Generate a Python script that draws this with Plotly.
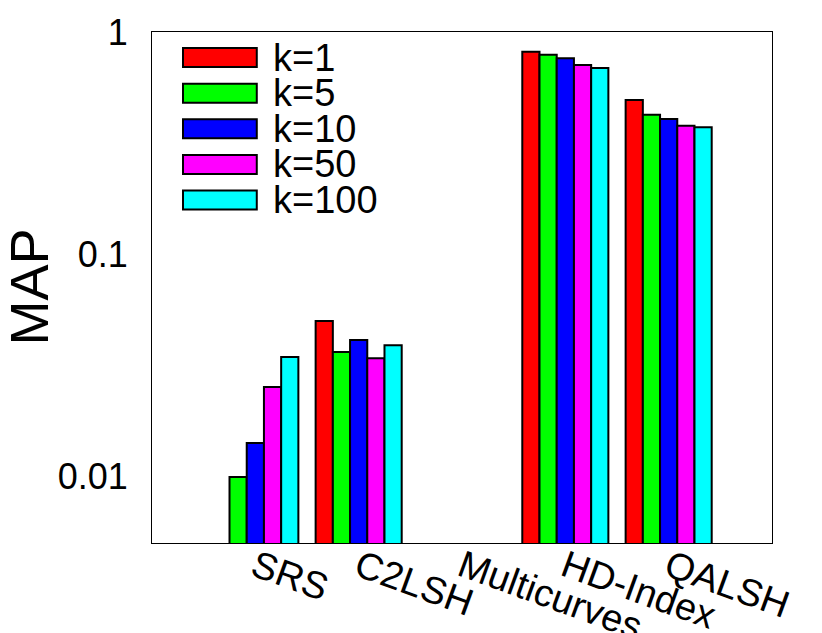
import plotly.graph_objects as go

methods = ['SRS', 'C2LSH', 'Multicurves', 'HD-Index', 'QALSH']
series_names = ['k=1', 'k=5', 'k=10', 'k=50', 'k=100']
colors = ['#ff0000', '#00ff00', '#0000ff', '#ff00ff', '#00ffff']

# MAP per method, one list per k (None = no bar)
map_k1 = [None, 0.050, None, 0.815, 0.494]
map_k5 = [0.0099, 0.0362, None, 0.790, 0.424]
map_k10 = [0.0141, 0.0410, None, 0.761, 0.406]
map_k50 = [0.0252, 0.0340, None, 0.710, 0.378]
map_k100 = [0.0344, 0.0389, None, 0.689, 0.372]

values = [map_k1, map_k5, map_k10, map_k50, map_k100]

FONT = 'Liberation Sans, Arial, sans-serif'

fig = go.Figure()
for name, vals, col in zip(series_names, values, colors):
    fig.add_trace(go.Bar(
        x=methods, y=vals, name=name,
        marker=dict(color=col, line=dict(color='black', width=2)),
        showlegend=False,
    ))

# hand-made key, so the swatches can be wide like the original
shapes = []
annotations = []
for i, (name, col) in enumerate(zip(series_names, colors)):
    yc = 0.950 - i * 0.0697
    shapes.append(dict(type='rect', xref='paper', yref='paper',
                       x0=0.05, x1=0.169, y0=yc - 0.0186, y1=yc + 0.0186,
                       fillcolor=col, line=dict(color='black', width=2)))
    annotations.append(dict(xref='paper', yref='paper', x=0.192, y=yc,
                            text=name, showarrow=False, xanchor='left',
                            yanchor='middle', height=32,
                            font=dict(size=38, color='black')))

# y title as an annotation so it can sit right at the left edge
annotations.append(dict(xref='paper', yref='paper', x=-0.2, y=0.5,
                        text='MAP', textangle=-90, showarrow=False,
                        xanchor='center', yanchor='middle', height=46,
                        font=dict(size=54, color='black')))

# page has an 8px body margin, so margins are shifted by that
fig.update_layout(
    width=822, height=633,
    margin=dict(l=144, r=58, t=24, b=98),
    paper_bgcolor='white', plot_bgcolor='white',
    font=dict(family=FONT, color='black'),
    barmode='group', bargap=0.167, bargroupgap=0,
    shapes=shapes, annotations=annotations,
)
fig.update_xaxes(
    type='category', range=[-1, 5],
    showline=True, linecolor='black', linewidth=1, mirror=True,
    showgrid=False, ticks='', tickangle=20, ticklabelstandoff=-14,
    tickfont=dict(size=38), automargin=False,
)
fig.update_yaxes(
    type='log', range=[-2.301, 0],
    tickvals=[0.01, 0.1, 1], ticktext=['0.01', '0.1', '1'],
    showline=True, linecolor='black', linewidth=1, mirror=True,
    showgrid=False, ticks='', ticklabelstandoff=16,
    tickfont=dict(size=36), automargin=False,
)

fig.write_html("out.html")
